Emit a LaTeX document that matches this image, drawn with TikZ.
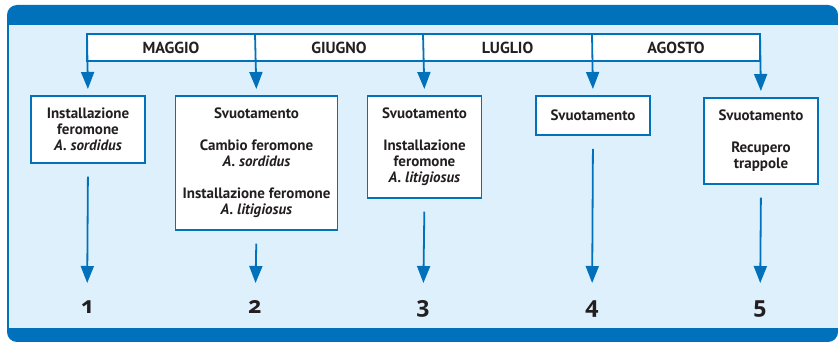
\documentclass[tikz,border=0pt]{standalone}
\usepackage{fontspec}
\setmainfont{PT Sans}
\newfontfamily\numfont[Numbers=OldStyle]{Open Sans}
\usetikzlibrary{arrows.meta,positioning}
\definecolor{mainblue}{RGB}{0,113,186}
\definecolor{paleblue}{RGB}{221,240,251}
\definecolor{inkgray}{RGB}{35,31,32}
\newcommand{\specie}[1]{\textit{#1}}
\newcommand{\gap}{\\[16pt]}

\begin{document}
\begin{tikzpicture}[x=1pt,y=-1pt,
  stepbox/.style={draw=mainblue,line width=1.8pt,fill=white,align=center,anchor=north,
    font=\bfseries\fontsize{15}{16}\selectfont,text=inkgray,
    minimum width=114pt,inner xsep=7pt,inner ysep=12pt},
  monthlabel/.style={font=\bfseries\fontsize{16}{18}\selectfont,text=inkgray},
  stepnum/.style={font=\numfont\bfseries\fontsize{23}{24}\selectfont,text=inkgray,inner sep=0pt,anchor=base},
  link/.style={mainblue,line width=1.8pt,-{Triangle[width=13pt,length=17pt]}}]

 \useasboundingbox (0,0) rectangle (838,342);
 % frame
 \fill[mainblue,rounded corners=10pt] (7,5) rectangle (838,342);
 \fill[paleblue] (9,25) rectangle (838,328);

 % months
 \draw[mainblue,line width=1.8pt,fill=white] (87,34) rectangle (760,61);
 \node[monthlabel] (maggio) at (171,47.5) {MAGGIO};
 \node[monthlabel] (giugno) at (339,47.5) {GIUGNO};
 \node[monthlabel] (luglio) at (507.5,47.5) {LUGLIO};
 \node[monthlabel] (agosto) at (676,47.5) {AGOSTO};

 % boxes
 \node[stepbox] (box1) at (88,95) {Installazione\\feromone\\\specie{A. sordidus}};
 \node[stepbox,minimum width=159pt] (box2) at (256.5,95) {Svuotamento\gap Cambio feromone\\\specie{A. sordidus}\gap Installazione feromone\\\specie{A. litigiosus}};
 \node[stepbox] (box3) at (424.5,95) {Svuotamento\gap Installazione\\feromone\\\specie{A. litigiosus}};
 \node[stepbox,minimum height=39pt] (box4) at (593,95) {Svuotamento};
 \node[stepbox] (box5) at (761,97) {Svuotamento\gap Recupero\\trappole};

 % numbers
 \foreach \x [count=\i] in {87,255,423,592,760}
 {  \coordinate (top\i) at (\x,34);
    \node[stepnum] (num\i) at (\x,313) {\i};
    \draw[link,shorten >=6pt] (top\i) -- (box\i.north);
    \draw[link,shorten <=13pt,shorten >=30pt] (box\i.south) -- (\x,313);
 }

\end{tikzpicture}
\end{document}
